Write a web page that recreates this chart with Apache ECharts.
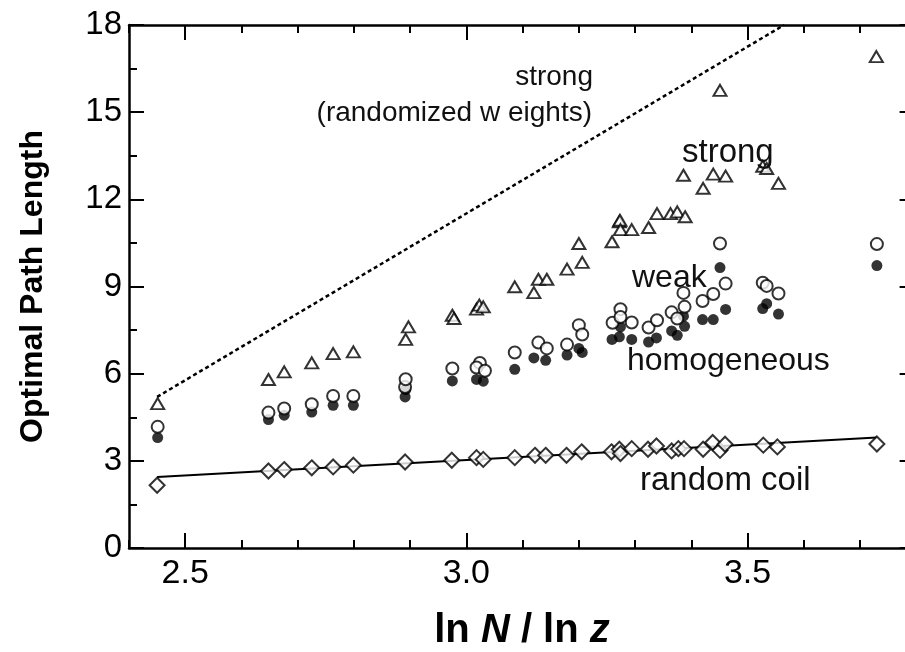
<!DOCTYPE html>
<html><head><meta charset="utf-8">
<script src="https://cdn.jsdelivr.net/npm/echarts@6/dist/echarts.min.js"></script>
<style>html,body{margin:0;padding:0;background:#fff}#c{width:905px;height:652px}</style>
</head><body><div id="c"></div>
<script>
// x = ln N / ln z
const xCoil   = [2.45,2.648,2.676,2.725,2.763,2.799,2.891,2.974,3.018,3.030,3.086,3.122,3.141,3.178,3.205,3.258,3.272,3.274,3.294,3.323,3.338,3.365,3.377,3.387,3.421,3.438,3.451,3.460,3.528,3.553,3.73];
const yCoil   = [2.16,2.65,2.70,2.76,2.79,2.85,2.96,3.02,3.11,3.05,3.11,3.19,3.19,3.19,3.31,3.31,3.40,3.25,3.42,3.40,3.51,3.34,3.42,3.42,3.40,3.63,3.36,3.57,3.54,3.48,3.58];
const xHomog  = [2.451,2.648,2.676,2.725,2.763,2.799,2.891,2.892,2.975,3.018,3.030,3.086,3.120,3.141,3.179,3.200,3.206,3.259,3.272,3.274,3.294,3.324,3.338,3.365,3.375,3.388,3.386,3.420,3.439,3.451,3.461,3.527,3.534,3.555,3.73];
const yHomog  = [3.80,4.42,4.57,4.68,4.91,4.91,5.20,5.45,5.75,5.80,5.74,6.15,6.54,6.46,6.64,6.87,6.73,7.18,7.27,7.61,7.18,7.09,7.23,7.47,7.32,7.63,7.98,7.86,7.86,9.65,8.21,8.24,8.41,8.05,9.72];
const xWeak   = [2.451,2.648,2.676,2.725,2.763,2.799,2.891,2.892,2.975,3.024,3.018,3.033,3.086,3.128,3.143,3.179,3.200,3.206,3.260,3.274,3.274,3.294,3.324,3.339,3.365,3.375,3.386,3.388,3.420,3.439,3.451,3.461,3.527,3.534,3.555,3.73];
const yWeak   = [4.17,4.66,4.80,4.95,5.23,5.23,5.54,5.81,6.18,6.37,6.21,6.10,6.73,7.07,6.87,7.00,7.67,7.35,7.75,8.22,7.95,7.76,7.59,7.84,8.11,7.90,8.78,8.30,8.50,8.74,10.48,9.10,9.13,9.02,8.76,10.46];
const xStrong = [2.451,2.648,2.676,2.725,2.763,2.799,2.892,2.897,2.975,2.978,3.018,3.023,3.030,3.086,3.120,3.128,3.143,3.179,3.200,3.206,3.259,3.272,3.273,3.274,3.294,3.324,3.339,3.363,3.375,3.389,3.386,3.421,3.439,3.451,3.461,3.527,3.534,3.555,3.729];
const yStrong = [4.97,5.80,6.06,6.37,6.69,6.75,7.18,7.61,8.01,7.90,8.22,8.36,8.30,8.99,8.79,9.25,9.25,9.60,10.48,9.83,10.54,11.23,11.28,10.96,10.96,11.03,11.51,11.51,11.57,11.40,12.83,12.38,12.87,15.75,12.80,13.14,13.06,12.55,16.91];
const xRandLine = [2.45, 3.565];
const yRandLine = [5.2, 18];
const xCoilLine = [2.45, 3.73];
const yCoilLine = [2.44, 3.80];
const xMajorTicks = [2.5, 3.0, 3.5];
const xMinorTicks = [2.4, 2.5, 2.6, 2.7, 2.8, 2.9, 3.0, 3.1, 3.2, 3.3, 3.4, 3.5, 3.6, 3.7];

const zip = (a,b) => a.map((v,i)=>[v,b[i]]);
const FONT = '"Liberation Sans", Arial, sans-serif';
const chart = echarts.init(document.getElementById('c'), null, {renderer:'canvas'});
const lineSt = {show:true, lineStyle:{color:'#000', width:2.5}};
function xAx(pos, major, labels){
  return {type:'value', position:pos, min:2.4, max:3.78,
    axisLine: major ? lineSt : {show:false},
    axisTick: major ? {show:true, inside:true, length:15, lineStyle:{color:'#000',width:2}, customValues:xMajorTicks}
                    : {show:true, inside:true, length:8, lineStyle:{color:'#000',width:2}, customValues:xMinorTicks},
    axisLabel: labels ? {show:true, customValues:xMajorTicks, formatter:v=>v.toFixed(1), color:'#000', fontSize:34, fontFamily:FONT, margin:9} : {show:false},
    splitLine:{show:false}
  };
}
function yAx(pos, labels){
  return {type:'value', position:pos, min:0, max:18, interval:3, offset: labels ? 0 : 9.6,
    axisLine: lineSt,
    axisTick:{show:true, inside:true, length:15, lineStyle:{color:'#000',width:2}},
    minorTick:{show:true, splitNumber:2, length:8, lineStyle:{color:'#000',width:2}},
    axisLabel: labels ? {show:true, color:'#000', fontSize:33, fontFamily:FONT, margin:7} : {show:false},
    splitLine:{show:false},
    name: labels ? 'Optimal Path Length' : '', nameLocation:'middle', nameGap:80,
    nameTextStyle:{fontSize:32, fontWeight:'bold', fontFamily:FONT, color:'#000'}
  };
}
const mk = {color:'#fff', borderColor:'#000', borderWidth:2};
function label(txt, x, y, size, align){
  return {type:'text', x:x, y:y, style:{text:txt, font:size+'px '+FONT, fill:'#111', align:align||'left', verticalAlign:'middle'}, z:10};
}
chart.setOption({
  animation:false,
  backgroundColor:'#fff',
  grid: {left:129, top:25, right:0, bottom:104, containLabel:false},
  xAxis:[xAx('bottom',true,true), xAx('bottom',false,false), xAx('top',true,false), xAx('top',false,false)],
  yAxis:[yAx('left',true), yAx('right',false)],
  series:[
    {type:'line', data:zip(xRandLine,yRandLine), showSymbol:false, lineStyle:{color:'#000', width:2.5, type:[4,3]}, z:1},
    {type:'line', data:zip(xCoilLine,yCoilLine), showSymbol:false, lineStyle:{color:'#000', width:2}, z:1},
    {type:'scatter', data:zip(xCoil,yCoil), symbol:'diamond', symbolSize:[15,15], itemStyle:mk, z:3},
    {type:'scatter', data:zip(xHomog,yHomog), symbol:'circle', symbolSize:11, itemStyle:{color:'#000'}, z:3},
    {type:'scatter', data:zip(xWeak,yWeak), symbol:'circle', symbolSize:12, itemStyle:mk, z:4},
    {type:'scatter', data:zip(xStrong,yStrong), symbol:'triangle', symbolSize:[13,11], itemStyle:mk, z:4}
  ],
  graphic:[
    label('strong', 593, 77, 28, 'right'),
    label('(randomized w eights)', 592, 113, 28, 'right'),
    label('strong', 682, 153, 33),
    label('weak', 632, 278, 32),
    label('homogeneous', 627, 361, 32),
    label('random coil', 640, 481, 33),
    {type:'text', x:522, y:631, z:10, style:{
      text:'{b|ln }{i|N}{b| / ln }{i|z}', align:'center', verticalAlign:'middle',
      rich:{b:{fontSize:40,fontWeight:'bold',fontFamily:FONT,fill:'#000'},
            i:{fontSize:40,fontWeight:'bold',fontStyle:'italic',fontFamily:FONT,fill:'#000'}}}}
  ]
});
</script></body></html>
